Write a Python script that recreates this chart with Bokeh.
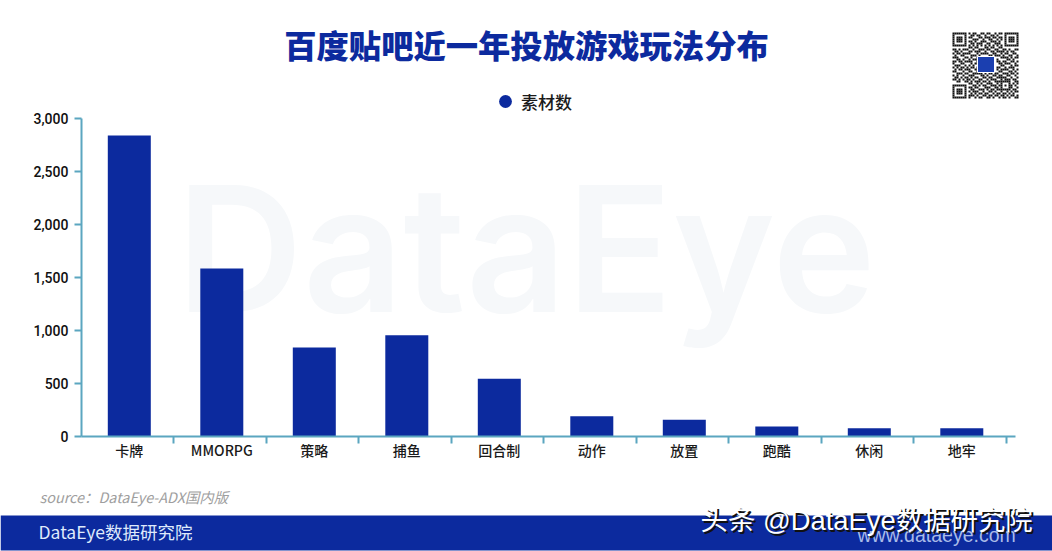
from bokeh.plotting import figure
from bokeh.models import Range1d, LinearAxis, FixedTicker, Legend, LegendItem, ColumnDataSource
from bokeh.core.properties import value
from bokeh.embed import file_html
from bokeh.resources import INLINE

categories = ["卡牌", "MMORPG", "策略", "捕鱼", "回合制", "动作", "放置", "跑酷", "休闲", "地牢"]
material_counts = [2840, 1585, 840, 955, 544, 192, 157, 94, 78, 78]
y_ticks = [0, 500, 1000, 1500, 2000, 2500, 3000]
series_name = "素材数"
title_text = "百度贴吧近一年投放游戏玩法分布"
source_text = "source：DataEye-ADX国内版"
footer_text = "DataEye数据研究院"
footer_url = "www.dataeye.com"
watermark_text = "DataEye"
overlay_text = "头条 @DataEye数据研究院"
qr_rows = [
    "111111101011001101100101101111111",
    "100000100110110010011010001000001",
    "101110101100011011101101101011101",
    "101110100011100100110010101011101",
    "101110101101001110011101001011101",
    "100000100110111001100111001000001",
    "111111101010101010101010101111111",
    "000000001101100011011001100000000",
    "110101110010011101100110011010011",
    "011010001101110010011011110101100",
    "101101111000101111001100101100110",
    "010011000111010000110111010011001",
    "111000110100111101101000111101011",
    "001101001011100000000010000110100",
    "110110111100100000000011011001101",
    "100011000101100000000001101110010",
    "011100101010000000000000110001011",
    "101011010110100000000011001011100",
    "010110111001100000000010111100101",
    "110001001100100000000001100011010",
    "001110110011111010110110011101101",
    "101001001110001101001101100110010",
    "011010110101100110110011111001001",
    "110101011010011001011100101110110",
    "001100110101110110100111111110011",
    "000000001100101001110010100010101",
    "111111100011010110011101101011010",
    "100000101101100011100110100011001",
    "101110100110011101011011111110110",
    "101110101011100100110100100101011",
    "101110100101011011001011011010100",
    "100000101110100110110110110101101",
    "111111101001011001101001011010011",
]

W, H = 1052, 551
NAVY = "#0c2a9e"
TEAL = "#5ba6c0"
CJK = "Noto Sans CJK SC"

# pixel anchors of the plot area inside the picture
x0_px, step_px = 128.8, 92.5          # first bar centre, bar spacing
y0_px, y_scale = 436.0, 318.0 / 3000  # zero line, pixels per unit
axis_left_px, axis_right_px = 81.0, 1015.0
bar_width = 43.0 / step_px
tick_shift = -2.0 / step_px

to_x = lambda px: (px - x0_px) / step_px
to_y = lambda py: (y0_px - py) / y_scale

p = figure(
    width=W, height=H, output_backend="svg", toolbar_location=None,
    x_range=Range1d(to_x(0), to_x(W)), y_range=Range1d(to_y(H), to_y(0)),
    x_axis_type=None, y_axis_type=None, min_border=0,
    outline_line_color=None, background_fill_color="white",
)
p.grid.visible = False
# second coordinate system in picture pixels, for decorations around the chart
p.extra_x_ranges["px"] = Range1d(0, W)
p.extra_y_ranges["px"] = Range1d(H, 0)


def deco_text(x, y, text, size, color, font=CJK, align="left", style="normal", level="glyph"):
    p.text([x], [y], text=[text], x_range_name="px", y_range_name="px",
           text_font=value(font), text_font_size=f"{size}px", text_color=color,
           text_align=align, text_baseline="middle", text_font_style=style, level=level)


# watermark behind the bars
deco_text(176, 247, watermark_text, 175, "#f6f8fa", font="Inter SemiBold", level="underlay")

# bars
source = ColumnDataSource(dict(x=list(range(len(categories))), count=material_counts))
p.vbar(x="x", top="count", bottom=0, width=bar_width, source=source,
       fill_color=NAVY, line_color=None)

# axes
xaxis = LinearAxis(
    ticker=FixedTicker(ticks=list(range(len(categories))),
                       minor_ticks=[i + 0.5 + tick_shift for i in range(len(categories))]),
    major_label_overrides={i: c for i, c in enumerate(categories)},
    fixed_location=0, bounds=(to_x(axis_left_px), to_x(axis_right_px)),
    axis_line_color=TEAL, axis_line_width=2,
    major_tick_line_color=None, major_tick_out=0, major_tick_in=0,
    minor_tick_line_color=TEAL, minor_tick_line_width=2, minor_tick_out=7, minor_tick_in=0,
    major_label_standoff=-4, major_label_text_font=CJK + " Medium",
    major_label_text_font_size="14px", major_label_text_color="#1a1a1a",
)
p.add_layout(xaxis, "below")
yaxis = LinearAxis(
    ticker=FixedTicker(ticks=y_ticks),
    major_label_overrides={t: f"{t:,}" for t in y_ticks},
    fixed_location=to_x(axis_left_px), bounds=(0, 3000),
    axis_line_color=TEAL, axis_line_width=2,
    major_tick_line_color=TEAL, major_tick_line_width=2, major_tick_out=7, major_tick_in=0,
    minor_tick_line_color=None,
    major_label_standoff=6, major_label_text_font="Roboto Medium",
    major_label_text_font_size="14px", major_label_text_color="#111111",
)
p.add_layout(yaxis, "left")

# legend: the marker is parked off-canvas so that only its legend entry shows
legend_marker = p.scatter([to_x(-50)], [0], marker="circle", size=12, fill_color=NAVY, line_color=None)
legend = Legend(items=[LegendItem(label=series_name, renderers=[legend_marker])],
                location=(489, 434), border_line_color=None, background_fill_alpha=0,
                label_text_font=CJK + " Medium", label_text_font_size="17px",
                label_text_color="#1a1a1a", glyph_width=32, glyph_height=32,
                label_standoff=-7, padding=0, margin=0)
p.add_layout(legend, "center")

# title, source line, footer band
deco_text(526, 43, title_text, 32.3, NAVY, align="center", font=CJK + " Black")
deco_text(39, 496, source_text, 14.4, "#9e9e9e", style="italic")
p.quad(left=[0], right=[W], top=[515], bottom=[550], x_range_name="px", y_range_name="px",
       fill_color=NAVY, line_color=None)
deco_text(38, 531, footer_text, 17.5, "#dfeafc")
deco_text(857, 534, footer_url, 19.5, "#a9bbe8", font="Liberation Sans")
deco_text(702, 522, overlay_text, 27.4, "#111111", font="Liberation Sans, " + CJK)
deco_text(700, 520, overlay_text, 27.4, "#ffffff", font="Liberation Sans, " + CJK)

# QR block
qx, qy, m = 952.0, 32.0, 2.0
cells = [(c, r) for r, row in enumerate(qr_rows) for c, v in enumerate(row) if v == "1"]
p.quad(left=[qx + c * m for c, r in cells], right=[qx + (c + 1) * m for c, r in cells],
       top=[qy + r * m for c, r in cells], bottom=[qy + (r + 1) * m for c, r in cells],
       x_range_name="px", y_range_name="px", fill_color="#111111", line_color=None)
p.quad(left=[977.0], right=[994.0], top=[56.0], bottom=[72.0], x_range_name="px", y_range_name="px",
       fill_color="#1b3fb0", line_color="white", line_width=1)

open("out.html", "w").write(file_html(p, INLINE))
